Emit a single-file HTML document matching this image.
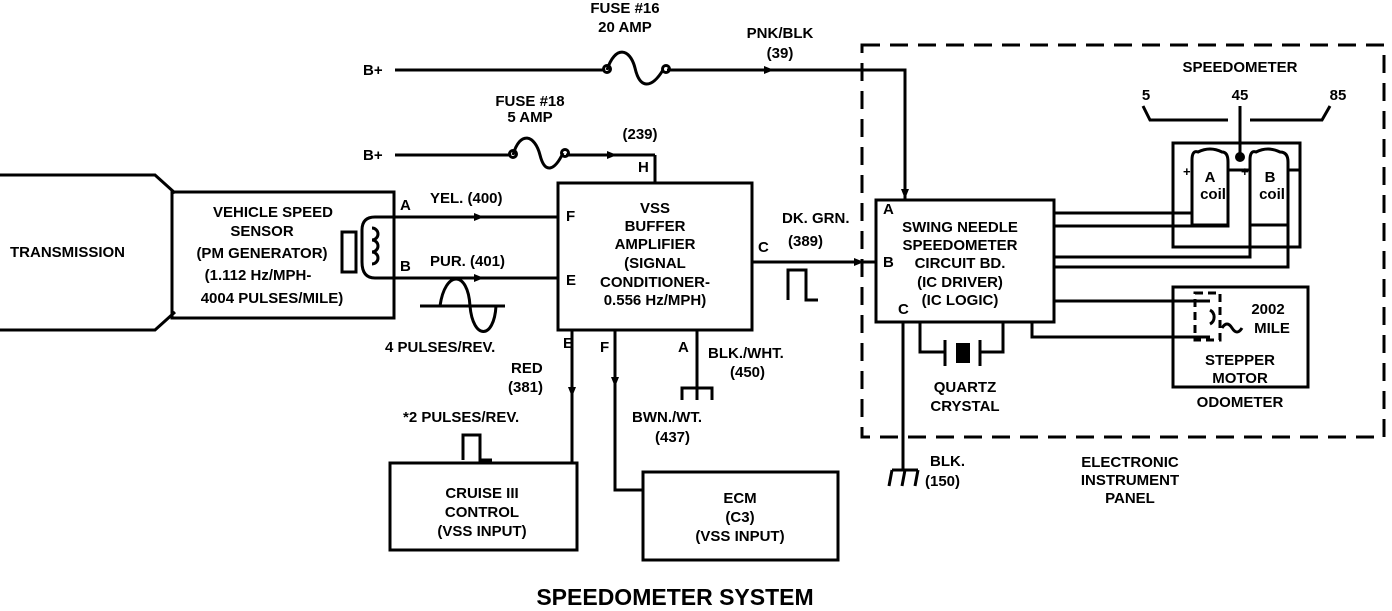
<!DOCTYPE html>
<html><head><style>
html,body{margin:0;padding:0;background:#fff;}
svg text{font-family:"Liberation Sans",Arial,sans-serif;font-weight:bold;font-size:15px;fill:#000;}
</style></head><body>
<svg width="1392" height="606" viewBox="0 0 1392 606" xmlns="http://www.w3.org/2000/svg">
<defs><marker id="ar" markerWidth="10" markerHeight="8" refX="8" refY="4" orient="auto" markerUnits="userSpaceOnUse"><path d="M0,0 L10,4 L0,8 Z" fill="#000"/></marker></defs>
<g fill="none" stroke="#000" stroke-width="3">
<path d="M0,175 H155 L175,193 M0,330 H155 L175,312"/>
<rect x="172" y="192" width="222" height="126"/>
<rect x="342" y="232" width="14" height="40"/>
<path d="M395,217 H375 Q362,217 362,230 V262 Q362,278 375,278 H395"/>
<path d="M372,228 a6,6 0 1 1 0,12 a6,6 0 1 1 0,12 a6,6 0 1 1 0,12"/>
<path d="M394,217 H558 M394,278 H558"/>
<path d="M420,306 H505 M440,306 C445,270 468,270 470,306 C473,340 494,340 496,306"/>
<rect x="558" y="183" width="194" height="147"/>
<path d="M655,155 V183"/>
<path d="M395,155 H510 M513,155 C520,130 535,135 540,155 C545,175 555,170 563,153 M566,155 H655"/>
<circle cx="513" cy="154" r="3.5"/><circle cx="565" cy="153" r="3.5"/>
<path d="M395,70 H604 M607,70 C615,45 630,48 635,68 C640,90 652,88 663,70 M667,70 H905 V200"/>
<circle cx="607" cy="69" r="3.5"/><circle cx="666" cy="69" r="3.5"/>
<path d="M752,262 H876"/>
<path d="M788,300 V270 H806 V300 H818"/>
<rect x="876" y="200" width="178" height="122"/>
<rect x="862" y="45" width="522" height="392" stroke-dasharray="18,10"/>
<path d="M1143,106 L1150,120 H1228 M1250,120 H1322 L1330,106"/>
<path d="M1240,106 V157"/>
<rect x="1173" y="143" width="127" height="104"/>
<path d="M1054,213 H1192 V160 M1054,226 H1228 V170 M1054,257 H1250 V160 M1054,267 H1288 V170"/>
<path d="M1192,160 Q1192,150 1198,152 Q1210,146 1222,152 Q1228,152 1228,162 V225 H1192 V160"/>
<path d="M1250,160 Q1250,150 1256,152 Q1268,146 1280,152 Q1288,152 1288,162 V225 H1250 Z"/>
<path d="M1228,170 H1250 M1288,170 H1300"/>
<rect x="1173" y="287" width="135" height="100"/>
<path d="M1054,301 H1210 M1032,322 V337 H1210"/>
<rect x="1195" y="293" width="25" height="47" stroke-dasharray="8,5"/>
<path d="M1210,310 a8,8 0 0 1 0,14" />
<path d="M1222,328 q5,-8 10,0 q5,8 10,0"/>
<path d="M920,322 V352 H945 M980,352 H1003 V322 M945,340 V366 M980,340 V366"/>
<path d="M903,322 V470 M892,470 H918 M892,470 L889,486 M905,470 L902,486 M918,470 L915,486"/>
<path d="M572,330 V463 M615,330 V490 H643 M697,330 V388 M682,400 V388 H712 V400 M697,388 V400"/>
<path d="M463,460 V435 H480 V460 H492"/>
<rect x="390" y="463" width="187" height="87"/>
<rect x="643" y="472" width="195" height="88"/>
</g>
<rect x="956" y="343" width="14" height="20" fill="#000"/>
<circle cx="1240" cy="157" r="5" fill="#000"/>
<g stroke="#000" stroke-width="3">
<line x1="460" y1="217" x2="482" y2="217" marker-end="url(#ar)"/>
<line x1="460" y1="278" x2="482" y2="278" marker-end="url(#ar)"/>
<line x1="595" y1="155" x2="615" y2="155" marker-end="url(#ar)"/>
<line x1="750" y1="70" x2="772" y2="70" marker-end="url(#ar)"/>
<line x1="905" y1="175" x2="905" y2="197" marker-end="url(#ar)"/>
<line x1="840" y1="262" x2="862" y2="262" marker-end="url(#ar)"/>
<line x1="572" y1="380" x2="572" y2="395" marker-end="url(#ar)"/>
<line x1="615" y1="370" x2="615" y2="385" marker-end="url(#ar)"/>
</g>
<text x="10" y="257">TRANSMISSION</text>
<g text-anchor="middle">
<text x="273" y="217">VEHICLE SPEED</text><text x="262" y="236">SENSOR</text>
<text x="262" y="258">(PM GENERATOR)</text><text x="258" y="280">(1.112 Hz/MPH-</text><text x="272" y="303">4004 PULSES/MILE)</text>
<text x="655" y="213">VSS</text><text x="655" y="231">BUFFER</text><text x="655" y="249">AMPLIFIER</text>
<text x="655" y="268">(SIGNAL</text><text x="655" y="287">CONDITIONER-</text><text x="655" y="305">0.556 Hz/MPH)</text>
<text x="960" y="232">SWING NEEDLE</text><text x="960" y="250">SPEEDOMETER</text><text x="960" y="268">CIRCUIT BD.</text>
<text x="960" y="287">(IC DRIVER)</text><text x="960" y="305">(IC LOGIC)</text>
<text x="625" y="13">FUSE #16</text><text x="625" y="32">20 AMP</text>
<text x="530" y="106">FUSE #18</text><text x="530" y="122">5 AMP</text>
<text x="780" y="38">PNK/BLK</text><text x="780" y="58">(39)</text>
<text x="640" y="139">(239)</text>
<text x="1240" y="72">SPEEDOMETER</text>
<text x="1146" y="100">5</text><text x="1240" y="100">45</text><text x="1338" y="100">85</text>
<text x="1210" y="182">A</text><text x="1213" y="199">coil</text>
<text x="1270" y="182">B</text><text x="1272" y="199">coil</text>
<text x="1268" y="314">2002</text><text x="1272" y="333">MILE</text>
<text x="1240" y="365">STEPPER</text><text x="1240" y="383">MOTOR</text><text x="1240" y="407">ODOMETER</text>
<text x="965" y="392">QUARTZ</text><text x="965" y="411">CRYSTAL</text>
<text x="1130" y="467">ELECTRONIC</text><text x="1130" y="485">INSTRUMENT</text><text x="1130" y="503">PANEL</text>
<text x="482" y="498">CRUISE III</text><text x="482" y="517">CONTROL</text><text x="482" y="536">(VSS INPUT)</text>
<text x="740" y="503">ECM</text><text x="740" y="522">(C3)</text><text x="740" y="541">(VSS INPUT)</text>
<text x="675" y="605" style="font-size:23px">SPEEDOMETER SYSTEM</text>
</g>
<text x="363" y="75">B+</text><text x="363" y="160">B+</text>
<text x="400" y="210">A</text><text x="400" y="271">B</text>
<text x="430" y="203">YEL. (400)</text><text x="430" y="266">PUR. (401)</text>
<text x="385" y="352">4  PULSES/REV.</text>
<text x="638" y="172">H</text>
<text x="566" y="221">F</text><text x="566" y="285">E</text>
<text x="758" y="252">C</text>
<text x="782" y="223">DK. GRN.</text><text x="788" y="246">(389)</text>
<text x="883" y="214">A</text><text x="883" y="267">B</text><text x="898" y="314">C</text>
<text x="1183" y="176" style="font-size:13px">+</text><text x="1241" y="176" style="font-size:13px">+</text>
<text x="563" y="348">E</text><text x="600" y="352">F</text><text x="678" y="352">A</text>
<text x="511" y="373">RED</text><text x="508" y="392">(381)</text>
<text x="708" y="358">BLK./WHT.</text><text x="730" y="377">(450)</text>
<text x="403" y="422">*2 PULSES/REV.</text>
<text x="632" y="422">BWN./WT.</text><text x="655" y="442">(437)</text>
<text x="930" y="466">BLK.</text><text x="925" y="486">(150)</text>
</svg>
</body></html>
